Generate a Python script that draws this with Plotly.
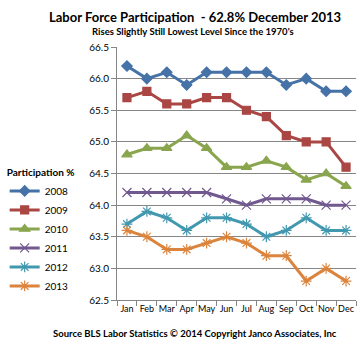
import plotly.graph_objects as go

months = ["Jan", "Feb", "Mar", "Apr", "May", "Jun", "Jul", "Aug", "Sep", "Oct", "Nov", "Dec"]
years = ["2008", "2009", "2010", "2011", "2012", "2013"]
v2008 = [66.2, 66.0, 66.1, 65.9, 66.1, 66.1, 66.1, 66.1, 65.9, 66.0, 65.8, 65.8]
v2009 = [65.7, 65.8, 65.6, 65.6, 65.7, 65.7, 65.5, 65.4, 65.1, 65.0, 65.0, 64.6]
v2010 = [64.8, 64.9, 64.9, 65.1, 64.9, 64.6, 64.6, 64.7, 64.6, 64.4, 64.5, 64.3]
v2011 = [64.2, 64.2, 64.2, 64.2, 64.2, 64.1, 64.0, 64.1, 64.1, 64.1, 64.0, 64.0]
v2012 = [63.7, 63.9, 63.8, 63.6, 63.8, 63.8, 63.7, 63.5, 63.6, 63.8, 63.6, 63.6]
v2013 = [63.6, 63.5, 63.3, 63.3, 63.4, 63.5, 63.4, 63.2, 63.2, 62.8, 63.0, 62.8]
series = [v2008, v2009, v2010, v2011, v2012, v2013]
yticks = [62.5, 63.0, 63.5, 64.0, 64.5, 65.0, 65.5, 66.0, 66.5]

colors = ["#4572A7", "#AA4643", "#89A54E", "#71588F", "#4198AF", "#DB843D"]
symbols = ["diamond", "square", "triangle-up", "x-thin-open", "asterisk-open", "asterisk-open"]
sizes = [8, 8, 9, 9, 9, 9]

FONT = "Lato"
x = list(range(len(months)))

fig = go.Figure()
for name, vals, c, s, sz in zip(years, series, colors, symbols, sizes):
    fig.add_trace(go.Scatter(
        x=x, y=vals, name=name, mode="lines+markers",
        line=dict(color=c, width=3),
        marker=dict(symbol=s, size=sz, color=c, line=dict(color=c, width=1.2)),
    ))

fig.update_layout(
    width=361, height=343,
    margin=dict(l=114, r=5, t=47, b=43),
    paper_bgcolor="white", plot_bgcolor="white",
    font=dict(family=FONT, size=10, color="black"),
    showlegend=True,
    legend=dict(
        title=dict(text="<b>Participation %</b>", font=dict(size=10)),
        x=-0.47, xanchor="left", y=0.54, yanchor="top",
        font=dict(size=10), itemwidth=30, tracegroupgap=0,
        bgcolor="rgba(0,0,0,0)",
    ),
    xaxis=dict(
        range=[-0.5, 11.5], tickvals=x, ticktext=months, ticks="",
        tickangle=0,
        showgrid=False, showline=True, linecolor="#868686", linewidth=1,
        tickfont=dict(size=9), zeroline=False,
        minor=dict(tickvals=[i - 0.5 for i in range(13)], ticks="outside",
                   ticklen=5, tickcolor="#868686", showgrid=False),
    ),
    yaxis=dict(
        range=[62.5, 66.5], tickvals=yticks, tickformat=".1f",
        showgrid=True, gridcolor="#868686", gridwidth=1,
        showline=True, linecolor="#868686", linewidth=1,
        ticks="outside", ticklen=5, tickcolor="#868686",
        tickfont=dict(size=10), zeroline=False,
    ),
)

fig.add_annotation(text="<b>Labor Force Participation  - 62.8% December 2013</b>",
                   xref="paper", yref="paper", x=0.5, y=1, xanchor="center",
                   yanchor="middle", yshift=30, showarrow=False,
                   font=dict(size=13, family=FONT), xshift=-42)
fig.add_annotation(text="<b>Rises Slightly Still Lowest Level Since the 1970's</b>",
                   xref="paper", yref="paper", x=0.5, y=1, xanchor="center",
                   yanchor="middle", yshift=16, showarrow=False,
                   font=dict(size=9.5, family=FONT), xshift=-44)
fig.add_annotation(text="<b>Source BLS Labor Statistics © 2014 Copyright Janco Associates, Inc</b>",
                   xref="paper", yref="paper", x=0.5, y=0, xanchor="center",
                   yanchor="middle", yshift=-33, showarrow=False,
                   font=dict(size=9.5, family=FONT), xshift=-42)

fig.write_html("out.html")
